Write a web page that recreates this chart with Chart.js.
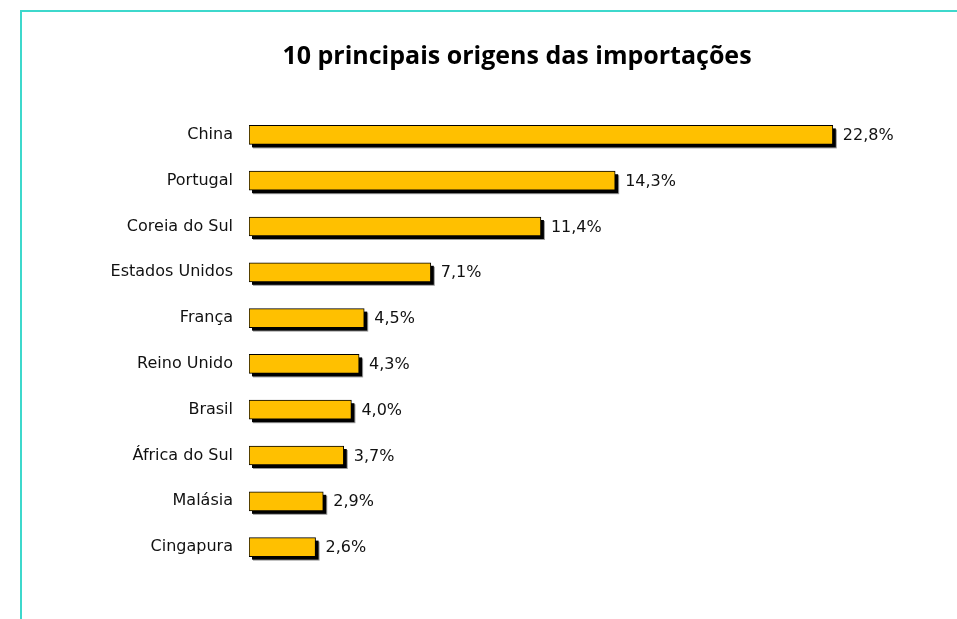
<!DOCTYPE html>
<html lang="pt">
<head>
<meta charset="UTF-8">
<title>10 principais origens das importações</title>
<script src="https://cdn.jsdelivr.net/npm/chart.js"></script>
<style>
  html, body { margin: 0; padding: 0; background: #fff; overflow: hidden; }
  #frame {
    position: absolute; left: 20px; top: 10px; width: 1000px; height: 700px;
    border-left: 2px solid #3dd8cc; border-top: 2px solid #3dd8cc;
  }
  #wrap { position: absolute; left: 77px; top: 0; width: 880px; height: 619px; }
</style>
</head>
<body>
<div id="frame"></div>
<div id="wrap"><canvas id="importChart"></canvas></div>

<script>
// categorias e valores (% das importações)
const countries = ['China', 'Portugal', 'Coreia do Sul', 'Estados Unidos', 'França',
                   'Reino Unido', 'Brasil', 'África do Sul', 'Malásia', 'Cingapura'];
const shares = [22.8, 14.3, 11.4, 7.1, 4.5, 4.3, 4.0, 3.7, 2.9, 2.6];

const labelFont = { family: '"DejaVu Sans", sans-serif', size: 16 };

// sombra preta por baixo das barras (o BarElement recorta a sua própria sombra)
const barShadow = {
    id: 'barShadow',
    beforeDatasetsDraw(chart) {
        const c = chart.ctx;
        const meta = chart.getDatasetMeta(0);
        c.save();
        meta.data.forEach((bar) => {
            const p = bar.getProps(['x', 'y', 'base', 'height'], true);
            const left = Math.min(p.x, p.base);
            const w = Math.abs(p.x - p.base);
            const top = p.y - p.height / 2;
            c.fillStyle = '#9a9a9a';
            c.fillRect(left + 4, top + 4, w, p.height);
            c.fillStyle = '#000';
            c.fillRect(left + 3, top + 3, w, p.height);
        });
        c.restore();
    }
};

// rótulos de valor à direita de cada barra
const valueLabels = {
    id: 'valueLabels',
    afterDraw(chart) {
        const c = chart.ctx;
        const meta = chart.getDatasetMeta(0);
        c.save();
        c.font = labelFont.size + 'px ' + labelFont.family;
        c.fillStyle = '#111';
        c.textAlign = 'left';
        c.textBaseline = 'middle';
        meta.data.forEach((bar, i) => {
            const txt = shares[i].toFixed(1).replace('.', ',') + '%';
            c.fillText(txt, bar.x + 10, bar.y + 1);
        });
        c.restore();
    }
};

const ctx = document.getElementById('importChart').getContext('2d');
const chart = new Chart(ctx, {
    type: 'bar',
    data: {
        labels: countries,
        datasets: [{
            data: shares,
            backgroundColor: '#ffc000',
            borderColor: '#000',
            borderWidth: 1,
            borderSkipped: false,
            barThickness: 19
        }]
    },
    options: {
        indexAxis: 'y',
        responsive: true,
        maintainAspectRatio: false,
        animation: false,
        layout: { padding: { left: 0, right: 0, top: 0, bottom: 49 } },
        scales: {
            x: { display: false, min: 0, max: 27.65 },
            y: {
                grid: { display: false, drawTicks: false },
                border: { display: false },
                ticks: { color: '#111', font: labelFont, padding: 16 },
                afterFit(axis) { axis.width = 172; }
            }
        },
        plugins: {
            legend: { display: false },
            tooltip: { enabled: false },
            title: {
                display: true,
                text: '10 principais origens das importações',
                color: '#000',
                font: { family: '"Open Sans", sans-serif', size: 25, weight: 'bold', lineHeight: 1.2 },
                padding: { top: 42, bottom: 40 }
            }
        }
    },
    plugins: [barShadow, valueLabels]
});
</script>
</body>
</html>
